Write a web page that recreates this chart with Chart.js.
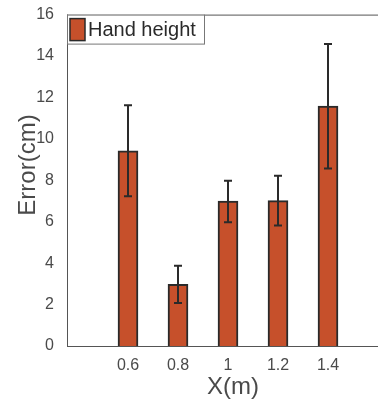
<!DOCTYPE html>
<html>
<head>
<meta charset="utf-8">
<script src="https://cdn.jsdelivr.net/npm/chart.js@4"></script>
<style>
  html, body { margin: 0; padding: 0; background: #fff; }
  #wrap { width: 378px; height: 400px; }
</style>
</head>
<body>
<div id="wrap"><canvas id="errChart"></canvas></div>
<script>
// 数据
const xValues = [0.6, 0.8, 1, 1.2, 1.4];
const meanErr = [9.42, 2.98, 7.0, 7.02, 11.58];
const errLow = [7.23, 2.08, 5.98, 5.82, 8.57];
const errHigh = [11.62, 3.87, 7.98, 8.22, 14.58];
const xTicks = ['0.6', '0.8', '1', '1.2', '1.4'];
const seriesName = 'Hand height';
const xTitle = 'X(m)';
const yTitle = 'Error(cm)';

const textColor = '#4a4a4a';
const axisColor = '#555';
const fontFamily = '"Liberation Sans", Arial, sans-serif';

// 误差线 + 图例 + 顶部边框 + 坐标轴标题
const extrasPlugin = {
    id: 'extras',
    afterDatasetsDraw(chart) {
        const ctx = chart.ctx;
        const xs = chart.scales.x;
        const ys = chart.scales.y;
        const area = chart.chartArea;
        ctx.save();

        // 顶部边框
        ctx.strokeStyle = axisColor;
        ctx.lineWidth = 1;
        ctx.beginPath();
        ctx.moveTo(area.left, area.top + 0.5);
        ctx.lineTo(area.right, area.top + 0.5);
        ctx.stroke();

        // 误差线
        ctx.strokeStyle = '#2a2a2a';
        ctx.lineWidth = 2;
        xValues.forEach((xv, i) => {
            const px = Math.round(xs.getPixelForValue(xv));
            const top = ys.getPixelForValue(errHigh[i]);
            const bot = ys.getPixelForValue(errLow[i]);
            ctx.beginPath();
            ctx.moveTo(px, top);
            ctx.lineTo(px, bot);
            ctx.moveTo(px - 4, top);
            ctx.lineTo(px + 4, top);
            ctx.moveTo(px - 4, bot);
            ctx.lineTo(px + 4, bot);
            ctx.stroke();
        });

        // 图例
        const lx = area.left, ly = area.top;
        ctx.fillStyle = '#fff';
        ctx.fillRect(lx, ly, 137, 29);
        ctx.strokeStyle = '#777';
        ctx.lineWidth = 1;
        ctx.strokeRect(lx + 0.5, ly + 0.5, 137, 29);
        ctx.fillStyle = '#c6502b';
        ctx.fillRect(lx + 3, ly + 4, 15, 22);
        ctx.strokeStyle = '#2a2a2a';
        ctx.lineWidth = 1.5;
        ctx.strokeRect(lx + 3, ly + 4, 15, 22);
        ctx.fillStyle = '#2a2a2a';
        ctx.font = '20px ' + fontFamily;
        ctx.textBaseline = 'middle';
        ctx.textAlign = 'left';
        ctx.fillText(seriesName, lx + 21, ly + 16);

        // 坐标轴标题
        ctx.fillStyle = textColor;
        ctx.font = '24px ' + fontFamily;
        ctx.textAlign = 'center';
        ctx.textBaseline = 'alphabetic';
        ctx.fillText(xTitle, 233, 394);
        ctx.translate(35, 165);
        ctx.rotate(-Math.PI / 2);
        ctx.fillText(yTitle, 0, 0);

        ctx.restore();
    }
};

new Chart(document.getElementById('errChart'), {
    type: 'bar',
    data: {
        datasets: [{
            label: seriesName,
            data: xValues.map((x, i) => ({ x: x, y: meanErr[i] })),
            backgroundColor: '#c6502b',
            borderColor: '#2a2a2a',
            borderWidth: 2,
            barThickness: 20
        }]
    },
    options: {
        responsive: true,
        maintainAspectRatio: false,
        animation: false,
        layout: { padding: { top: 13, right: 0, left: 0, bottom: 0 } },
        plugins: {
            legend: { display: false },
            tooltip: { enabled: false }
        },
        scales: {
            x: {
                type: 'linear',
                offset: false,
                min: 0.356,
                max: 1.6,
                grid: { display: false },
                border: { display: true, color: axisColor, width: 1 },
                afterBuildTicks(scale) {
                    scale.ticks = xValues.map(v => ({ value: v }));
                },
                afterFit(scale) { scale.height = 54; },
                ticks: {
                    color: textColor,
                    font: { size: 16, family: fontFamily },
                    padding: 2,
                    maxRotation: 0,
                    callback: (v, i) => xTicks[i]
                }
            },
            y: {
                min: 0,
                max: 16,
                grid: { display: false },
                border: { display: true, color: axisColor, width: 1 },
                afterFit(scale) { scale.width = 67; },
                ticks: {
                    stepSize: 2,
                    color: textColor,
                    font: { size: 16, family: fontFamily },
                    padding: 5
                }
            }
        }
    },
    plugins: [extrasPlugin]
});
</script>
</body>
</html>
